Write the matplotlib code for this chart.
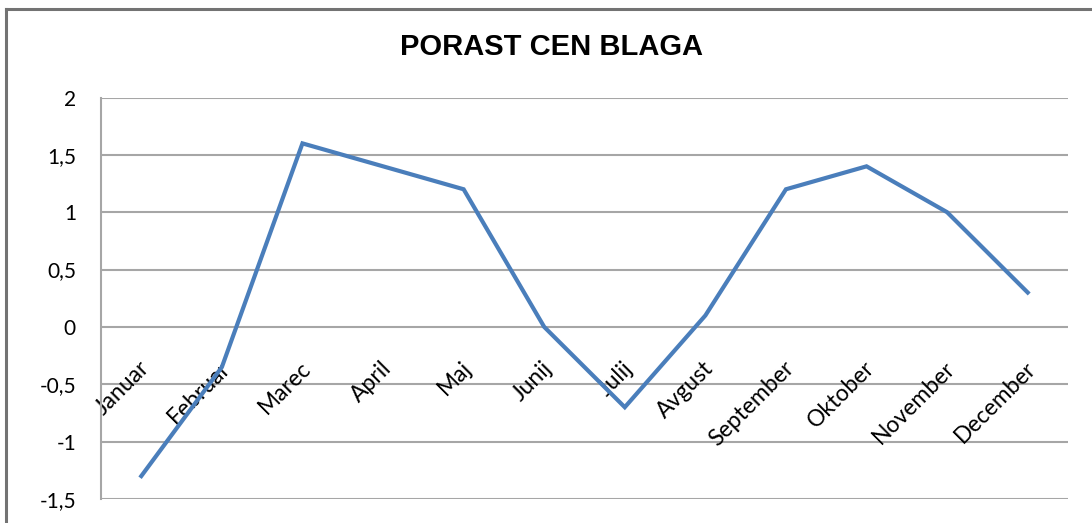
import matplotlib.pyplot as plt
from matplotlib.lines import Line2D

months = ['Januar', 'Februar', 'Marec', 'April', 'Maj', 'Junij', 'Julij',
          'Avgust', 'September', 'Oktober', 'November', 'December']
values = [-1.3, -0.35, 1.6, 1.4, 1.2, 0.0, -0.7, 0.1, 1.2, 1.4, 1.0, 0.3]
yticks = [-1.5, -1, -0.5, 0, 0.5, 1, 1.5, 2]
ytick_labels = ['-1,5', '-1', '-0,5', '0', '0,5', '1', '1,5', '2']

fig = plt.figure(figsize=(10.92, 5.23), dpi=100)
ax = fig.add_axes([101 / 1092, 1 - 499 / 523, (1068 - 101) / 1092, (499 - 97.5) / 523])

x = list(range(len(months)))
ax.plot(x, values, color='#4a7ebb', lw=3.0, solid_joinstyle='miter', zorder=3)

ax.set_xlim(-0.5, 11.5)
ax.set_ylim(-1.5, 2)
ax.set_yticks(yticks)
ax.set_yticklabels(ytick_labels, fontfamily='Lato', fontsize=15)
ax.tick_params(axis='y', length=0, pad=18)
ax.set_xticks([])
ax.grid(axis='y', color='#a6a6a6', lw=1.5)
ax.set_axisbelow(True)
for s in ['top', 'right', 'bottom']:
    ax.spines[s].set_visible(False)
ax.spines['left'].set_color('#a6a6a6')
ax.spines['left'].set_linewidth(1.5)

# month labels sit under the zero line, rotated like in Excel
for i, m in enumerate(months):
    ax.annotate(m, xy=(i, 0), xytext=(5, -38), textcoords='offset pixels',
                rotation=45, rotation_mode='anchor', ha='right', va='center',
                fontfamily='Lato', fontsize=16.5, zorder=2,
                annotation_clip=False, clip_on=False)

fig.text(551 / 1092, 1 - 47 / 523, 'PORAST CEN BLAGA', ha='center', va='center',
         fontfamily='Liberation Sans', fontweight='bold', fontsize=21)

# chart frame
fig.add_artist(Line2D([6 / 1092, 1.01], [1 - 9 / 523, 1 - 9 / 523], color='#737373', lw=2.2))
fig.add_artist(Line2D([6 / 1092, 6 / 1092], [-0.01, 1 - 9 / 523], color='#737373', lw=2.2))

fig.savefig('out.png', dpi=100)
